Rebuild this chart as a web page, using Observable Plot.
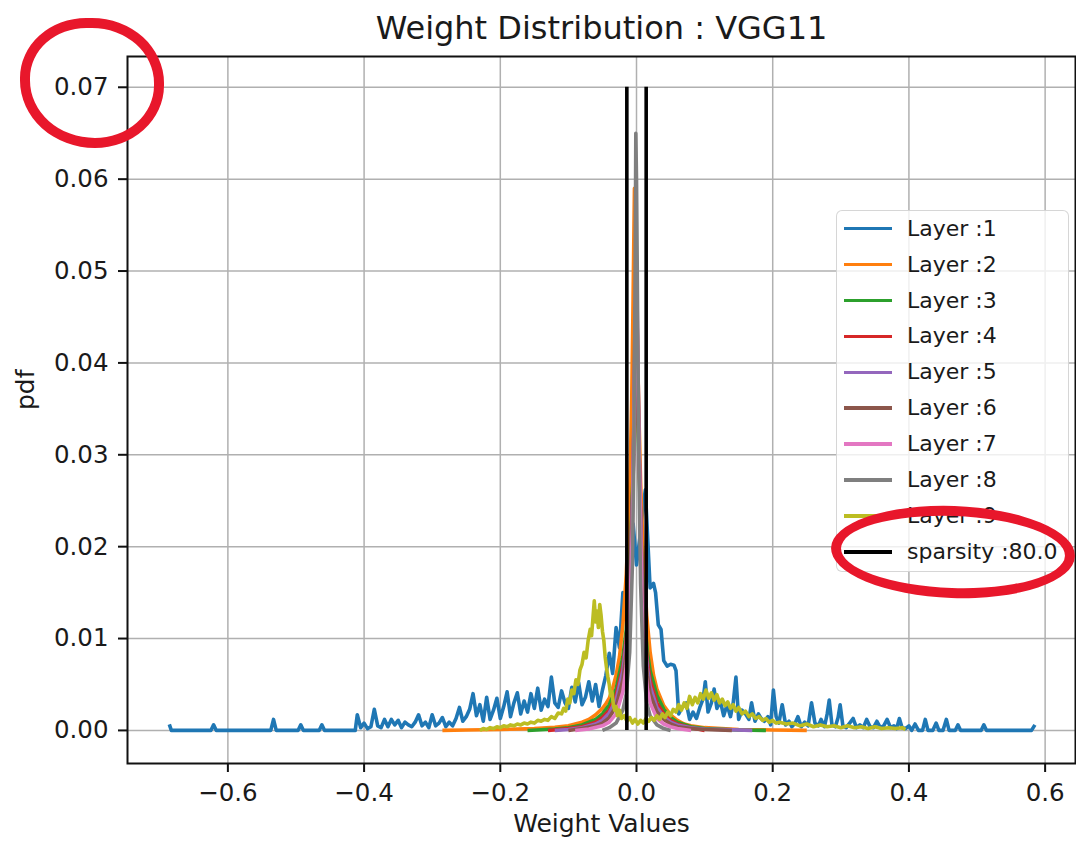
<!DOCTYPE html>
<html><head><meta charset="utf-8">
<script src="https://cdn.jsdelivr.net/npm/d3@7"></script>
<script src="https://cdn.jsdelivr.net/npm/@observablehq/plot@0.6"></script>
<style>
html,body{margin:0;padding:0;background:#fff;}
#wrap{position:relative;width:1076px;height:845px;overflow:hidden;font-family:"DejaVu Sans",sans-serif;}
#wrap svg{display:block;}
.redmark{position:absolute;box-sizing:border-box;border:10px solid #e8172b;border-radius:50%;pointer-events:none;}
</style></head>
<body><div id="wrap"></div>
<script>
// ---- text ----
const chartTitle = "Weight Distribution : VGG11";
const xLabel = "Weight Values";
const yLabel = "pdf";
const layerNames = ["Layer :1","Layer :2","Layer :3","Layer :4","Layer :5","Layer :6","Layer :7","Layer :8","Layer :9"];
const layerColors = ["#1f77b4","#ff7f0e","#2ca02c","#d62728","#9467bd","#8c564b","#e377c2","#7f7f7f","#bcbd22"];
const sparsityLabel = "sparsity :80.0";
const xTicks = [-0.6,-0.4,-0.2,0.0,0.2,0.4,0.6];
const yTicks = [0,0.01,0.02,0.03,0.04,0.05,0.06,0.07];

// ---- sparsity threshold lines ----
const sparsityX = [-0.0142, 0.0142];
const sparsityY = [0, 0.07];

// ---- series: [weight value, pdf] ----
const layer1 = [
[-0.686,0.00065],[-0.683,0],[-0.625,0],[-0.621,0.0006],[-0.617,0],[-0.537,0],[-0.533,0.0012],[-0.529,0],[-0.497,0],[-0.493,0.0006],[-0.489,0],[-0.466,0],[-0.462,0.0006],[-0.458,0],[-0.413,0],
[-0.410,0.0017],[-0.405,0.0003],[-0.400,0.0008],[-0.395,0.0002],[-0.390,0.0004],[-0.385,0.0023],[-0.380,0.0005],[-0.375,0.0003],[-0.370,0.0012],[-0.365,0.0004],[-0.360,0.0012],[-0.355,0.0006],[-0.350,0.0011],[-0.345,0.0003],[-0.340,0.0009],[-0.335,0.0006],[-0.330,0.0004],[-0.325,0.0009],[-0.320,0.0017],[-0.315,0.0005],[-0.310,0.0009],[-0.305,0.0003],[-0.300,0.0017],[-0.295,0.0005],[-0.290,0.0008],[-0.285,0.0014],[-0.280,0.0004],[-0.275,0.0009],[-0.270,0.0005],[-0.265,0.0013],[-0.260,0.0025],[-0.255,0.0010],[-0.250,0.0015],[-0.245,0.0023],[-0.240,0.0040],[-0.235,0.0016],[-0.230,0.0028],[-0.225,0.0010],[-0.220,0.0036],[-0.215,0.0012],[-0.210,0.0022],[-0.205,0.0035],[-0.200,0.0013],[-0.195,0.0026],[-0.190,0.0042],[-0.185,0.0015],[-0.180,0.0030],[-0.175,0.0041],[-0.170,0.0018],[-0.165,0.0032],[-0.160,0.0020],[-0.155,0.0040],[-0.150,0.0024],[-0.145,0.0046],[-0.140,0.0022],[-0.135,0.0034],[-0.130,0.0026],[-0.125,0.0058],[-0.120,0.0030],[-0.115,0.0025],[-0.110,0.0043],[-0.105,0.0030],[-0.100,0.0024],[-0.095,0.0047],[-0.090,0.0031],[-0.085,0.0052],[-0.080,0.0028],[-0.075,0.0036],[-0.070,0.0053],[-0.065,0.0032],[-0.060,0.0050],[-0.055,0.0026],[-0.050,0.0044],[-0.045,0.0060],[-0.040,0.0084],[-0.035,0.0062],[-0.030,0.0112],[-0.025,0.0090],[-0.020,0.0150],[-0.015,0.0120],[-0.010,0.0190],[-0.005,0.0225],[0.000,0.0180],[0.005,0.0210],[0.010,0.0245],[0.013,0.0262],[0.017,0.0200],[0.020,0.0155],[0.025,0.0160],[0.028,0.0150],[0.032,0.0115],[0.036,0.0110],[0.040,0.0076],[0.045,0.0070],[0.050,0.0072],[0.055,0.0071],[0.058,0.0065],[0.062,0.0018],[0.067,0.0025],[0.073,0.0030],[0.078,0.0012],[0.083,0.0020],[0.088,0.0013],[0.093,0.0025],[0.098,0.0035],[0.101,0.0053],[0.105,0.0020],[0.110,0.0030],[0.114,0.0045],[0.118,0.0024],[0.123,0.0032],[0.128,0.0016],[0.133,0.0028],[0.138,0.0015],[0.142,0.0030],[0.146,0.0058],[0.150,0.0012],[0.155,0.0022],[0.160,0.0018],[0.165,0.0012],[0.169,0.0030],[0.174,0.0010],[0.179,0.0018],[0.183,0.0013],[0.188,0.0010],[0.193,0.0015],[0.197,0.0006],[0.201,0.0044],[0.205,0.0015],[0.209,0.0008],[0.214,0.0028],[0.219,0.0006],[0.224,0.0010],[0.228,0.0004],[0.233,0.0008],[0.237,0.0015],[0.242,0.0004],[0.247,0.0009],[0.252,0.0005],[0.257,0.0030],[0.262,0.0008],[0.267,0.0005],[0.271,0.0012],[0.276,0.0004],[0.280,0.0018],[0.283,0.0033],[0.287,0.0006],[0.292,0.0004],[0.296,0.0014],[0.299,0.0028],[0.303,0.0005],[0.308,0.0003],[0.313,0.0008],[0.318,0.0013],[0.323,0.0003],[0.328,0.0006],[0.333,0.0003],[0.338,0.0012],[0.343,0.0004],[0.348,0.0003],[0.353,0.0010],[0.358,0.0003],[0.363,0.0005],[0.368,0.0012],[0.373,0.0003],[0.378,0.0005],[0.382,0.0002],[0.386,0.0013],[0.390,0.0003],[0.395,0.0002],[0.400,0.0005],[0.404,0],[0.409,0.0007],[0.414,0],[0.420,0],[0.424,0.0012],[0.428,0],[0.435,0],[0.440,0.0008],[0.444,0],[0.450,0],[0.455,0.0012],[0.459,0],[0.468,0],[0.472,0.0006],[0.476,0],[0.506,0],[0.510,0.0006],[0.514,0],[0.580,0],[0.585,0.0006]
];
const layer2 = [
[-0.285,0],[-0.25,0.00005],[-0.2,0.0001],[-0.15,0.0002],[-0.12,0.00035],[-0.10,0.0005],[-0.09,0.0007],[-0.08,0.0009],[-0.07,0.0012],[-0.06,0.0017],[-0.05,0.0024],[-0.045,0.0029],[-0.04,0.0035],[-0.035,0.0046],[-0.03,0.0060],[-0.025,0.0080],[-0.02,0.0115],[-0.015,0.017],[-0.01,0.026],[-0.007,0.036],[-0.005,0.047],[-0.003,0.059],[-0.001,0.052],[0.001,0.044],[0.003,0.036],[0.006,0.027],[0.01,0.019],[0.015,0.0125],[0.02,0.0085],[0.025,0.0060],[0.03,0.0045],[0.04,0.0027],[0.05,0.0017],[0.06,0.0011],[0.07,0.0007],[0.08,0.0005],[0.1,0.0003],[0.15,0.0001],[0.2,0.00005],[0.25,0]
];
const layer3 = [
[-0.16,0],[-0.12,0.00015],[-0.1,0.0003],[-0.08,0.0006],[-0.06,0.0012],[-0.05,0.0018],[-0.04,0.0028],[-0.03,0.0045],[-0.02,0.0080],[-0.015,0.011],[-0.01,0.017],[-0.005,0.028],[-0.002,0.040],[0.001,0.038],[0.004,0.028],[0.008,0.018],[0.012,0.012],[0.016,0.0085],[0.02,0.0065],[0.03,0.0038],[0.04,0.0023],[0.05,0.0014],[0.06,0.0009],[0.08,0.0004],[0.1,0.0002],[0.15,0.00005],[0.19,0]
];
const layer4 = [
[-0.13,0],[-0.1,0.0002],[-0.08,0.0004],[-0.06,0.0009],[-0.05,0.0014],[-0.04,0.0022],[-0.03,0.0038],[-0.02,0.0070],[-0.015,0.010],[-0.01,0.016],[-0.005,0.027],[-0.002,0.042],[0.001,0.040],[0.004,0.029],[0.008,0.017],[0.012,0.011],[0.016,0.0075],[0.02,0.0055],[0.03,0.0030],[0.04,0.0018],[0.05,0.0011],[0.06,0.0007],[0.08,0.0003],[0.1,0]
];
const layer5 = [
[-0.12,0],[-0.1,0.0001],[-0.08,0.0003],[-0.06,0.0007],[-0.05,0.0011],[-0.04,0.0019],[-0.03,0.0033],[-0.02,0.0065],[-0.015,0.0095],[-0.01,0.015],[-0.005,0.027],[-0.002,0.044],[0.001,0.042],[0.004,0.030],[0.008,0.017],[0.012,0.010],[0.016,0.0068],[0.02,0.0048],[0.03,0.0025],[0.04,0.0015],[0.05,0.0009],[0.06,0.0006],[0.08,0.0003],[0.1,0.00015],[0.17,0]
];
const layer6 = [
[-0.1,0],[-0.08,0.0002],[-0.06,0.0005],[-0.05,0.0008],[-0.04,0.0014],[-0.03,0.0026],[-0.02,0.0055],[-0.015,0.0085],[-0.01,0.014],[-0.005,0.027],[-0.002,0.046],[0.001,0.044],[0.004,0.030],[0.008,0.016],[0.012,0.009],[0.016,0.006],[0.02,0.004],[0.03,0.002],[0.04,0.0012],[0.05,0.0007],[0.06,0.0004],[0.08,0.0002],[0.1,0.0001],[0.14,0]
];
const layer7 = [
[-0.09,0],[-0.07,0.00015],[-0.05,0.0005],[-0.04,0.0009],[-0.03,0.0018],[-0.02,0.0042],[-0.015,0.007],[-0.01,0.0125],[-0.006,0.022],[-0.003,0.038],[-0.001,0.048],[0.001,0.046],[0.004,0.030],[0.008,0.014],[0.012,0.0075],[0.016,0.0045],[0.02,0.003],[0.03,0.0013],[0.04,0.0007],[0.05,0.0004],[0.06,0.0002],[0.08,0]
];
const layer8 = [
[-0.05,0],[-0.04,0.0003],[-0.03,0.0008],[-0.02,0.0022],[-0.015,0.004],[-0.01,0.0085],[-0.006,0.018],[-0.004,0.030],[-0.002,0.050],[-0.001,0.065],[0.0,0.060],[0.002,0.042],[0.004,0.026],[0.006,0.016],[0.01,0.007],[0.015,0.003],[0.02,0.0016],[0.03,0.0006],[0.04,0.0002],[0.05,0]
];
const layer9 = [
[-0.230,0],[-0.225,0.0002],[-0.220,0.0001],[-0.215,0.0003],[-0.210,0.0002],[-0.205,0.0004],[-0.200,0.0003],[-0.195,0.0005],[-0.190,0.0004],[-0.185,0.0006],[-0.180,0.0005],[-0.175,0.0007],[-0.170,0.0006],[-0.165,0.0008],[-0.160,0.0007],[-0.155,0.0009],[-0.150,0.0008],[-0.145,0.0011],[-0.140,0.0010],[-0.135,0.0012],[-0.130,0.0011],[-0.125,0.0015],[-0.120,0.0013],[-0.115,0.0019],[-0.110,0.0018],[-0.107,0.0024],[-0.104,0.0021],[-0.101,0.0034],[-0.098,0.0030],[-0.095,0.0044],[-0.092,0.0040],[-0.089,0.0055],[-0.086,0.0050],[-0.083,0.0066],[-0.080,0.0072],[-0.077,0.0085],[-0.074,0.0079],[-0.071,0.0098],[-0.068,0.0110],[-0.066,0.0103],[-0.064,0.0122],[-0.062,0.0141],[-0.060,0.0118],[-0.058,0.0130],[-0.056,0.0112],[-0.054,0.0137],[-0.052,0.0125],[-0.050,0.0108],[-0.048,0.0098],[-0.046,0.0080],[-0.044,0.0068],[-0.042,0.0058],[-0.040,0.0050],[-0.038,0.0038],[-0.036,0.0042],[-0.034,0.0028],[-0.032,0.0022],[-0.030,0.0026],[-0.028,0.0016],[-0.025,0.0022],[-0.022,0.0013],[-0.018,0.0016],[-0.014,0.0010],[-0.010,0.0014],[-0.006,0.0008],[-0.002,0.0012],[0.002,0.0007],[0.006,0.0011],[0.010,0.0008],[0.014,0.0013],[0.018,0.0010],[0.022,0.0014],[0.026,0.0011],[0.030,0.0016],[0.034,0.0012],[0.038,0.0018],[0.042,0.0014],[0.046,0.0020],[0.050,0.0016],[0.054,0.0023],[0.058,0.0020],[0.062,0.0028],[0.066,0.0022],[0.070,0.0030],[0.074,0.0024],[0.078,0.0037],[0.082,0.0028],[0.086,0.0036],[0.090,0.0030],[0.094,0.0040],[0.098,0.0034],[0.102,0.0044],[0.106,0.0035],[0.110,0.0041],[0.114,0.0033],[0.118,0.0039],[0.122,0.0030],[0.126,0.0034],[0.130,0.0027],[0.134,0.0031],[0.138,0.0024],[0.142,0.0028],[0.146,0.0021],[0.150,0.0025],[0.155,0.0018],[0.160,0.0021],[0.165,0.0015],[0.170,0.0018],[0.175,0.0013],[0.180,0.0015],[0.185,0.0011],[0.190,0.0013],[0.195,0.0009],[0.200,0.0011],[0.205,0.0008],[0.210,0.0009],[0.220,0.0007],[0.230,0.0008],[0.240,0.0005],[0.250,0.0007],[0.260,0.0004],[0.270,0.0006],[0.280,0.0004],[0.290,0.0005],[0.300,0.0003],[0.310,0.0005],[0.320,0.0003],[0.330,0.0004],[0.340,0.0002],[0.350,0.0004],[0.360,0.0002],[0.370,0.0003],[0.380,0.0002],[0.390,0.0003],[0.395,0.0001]
];
const layers = [layer1, layer2, layer3, layer4, layer5, layer6, layer7, layer8, layer9];

// ---- layout ----
const W = 1076, H = 845;
const M = {top: 56, right: 1, bottom: 82, left: 127};
const FONT = "DejaVu Sans";
const TEXT = "#1a1a1a";
const fmtX = d3.format(".1f");
const fmtY = d3.format(".2f");

const lineMarks = layers.map((data, i) => Plot.line(data, {
  x: d => d[0], y: d => d[1], stroke: layerColors[i], strokeWidth: 3.6,
  strokeLinejoin: "round", strokeLinecap: "butt"
}));

const sparsityRows = sparsityX.map(x => ({x, y1: sparsityY[0], y2: sparsityY[1]}));

const chart = Plot.plot({
  width: W, height: H,
  marginTop: M.top, marginRight: M.right, marginBottom: M.bottom, marginLeft: M.left,
  style: {fontFamily: FONT, fontSize: "24.5px", color: TEXT, background: "white", overflow: "visible"},
  x: {domain: [-0.7474, 0.6446]},
  y: {domain: [-0.0036, 0.07335]},
  marks: [
    Plot.gridX(xTicks, {stroke: "#b0b0b0", strokeOpacity: 1, strokeWidth: 1.5}),
    Plot.gridY(yTicks, {stroke: "#b0b0b0", strokeOpacity: 1, strokeWidth: 1.5}),
    ...lineMarks,
    Plot.ruleX(sparsityRows, {x: "x", y1: "y1", y2: "y2", stroke: "black", strokeWidth: 3.6}),
    Plot.frame({stroke: "#111", strokeWidth: 2}),
    Plot.axisX(xTicks, {tickSize: 9, tickPadding: 11, tickFormat: fmtX, fontSize: 24.5, stroke: "#111", strokeWidth: 2, fill: TEXT, label: null}),
    Plot.axisY(yTicks, {tickSize: 9, tickPadding: 10, tickFormat: fmtY, fontSize: 24.5, stroke: "#111", strokeWidth: 2, fill: TEXT, label: null}),
    Plot.text([chartTitle], {frameAnchor: "top", dy: -28, fontSize: 32, fill: TEXT, lineAnchor: "middle", text: d => d}),
    Plot.text([xLabel], {frameAnchor: "bottom", dy: 60, fontSize: 25, fill: TEXT, lineAnchor: "middle", text: d => d}),
    Plot.text([yLabel], {frameAnchor: "left", dx: -102, rotate: -90, fontSize: 25, fill: TEXT, lineAnchor: "middle", text: d => d})
  ]
});

const wrap = document.getElementById("wrap");
wrap.appendChild(chart);

// ---- legend (built from the series names/colours) ----
const legend = document.createElement("div");
legend.style.cssText = "position:absolute;left:836px;top:210px;width:233px;height:362px;box-sizing:border-box;background:rgba(255,255,255,0.8);border:1.4px solid rgba(204,204,204,0.8);border-radius:6px;";
const entries = layerNames.map((n, i) => ({name: n, color: layerColors[i]})).concat([{name: sparsityLabel, color: "#000"}]);
entries.forEach((e, i) => {
  const cy = 17.7 + i * 35.9;
  const sw = document.createElement("div");
  sw.style.cssText = `position:absolute;left:7px;top:${cy - 1.8}px;width:48px;height:3.6px;background:${e.color};`;
  const tx = document.createElement("div");
  tx.textContent = e.name;
  tx.style.cssText = `position:absolute;left:70px;top:${cy - 15}px;height:30px;line-height:30px;font-size:22px;font-family:'${FONT}';color:${TEXT};white-space:nowrap;`;
  legend.appendChild(sw); legend.appendChild(tx);
});
wrap.appendChild(legend);

// ---- hand-drawn red highlight marks on the reference ----
const m1 = document.createElement("div");
m1.className = "redmark";
m1.style.cssText = "left:20px;top:18px;width:144px;height:130px;border-radius:46% 50% 48% 52%;";
wrap.appendChild(m1);
const m2 = document.createElement("div");
m2.className = "redmark";
m2.style.cssText = "left:831px;top:506px;width:244px;height:92px;transform:rotate(2deg);";
wrap.appendChild(m2);
</script>
</body></html>
